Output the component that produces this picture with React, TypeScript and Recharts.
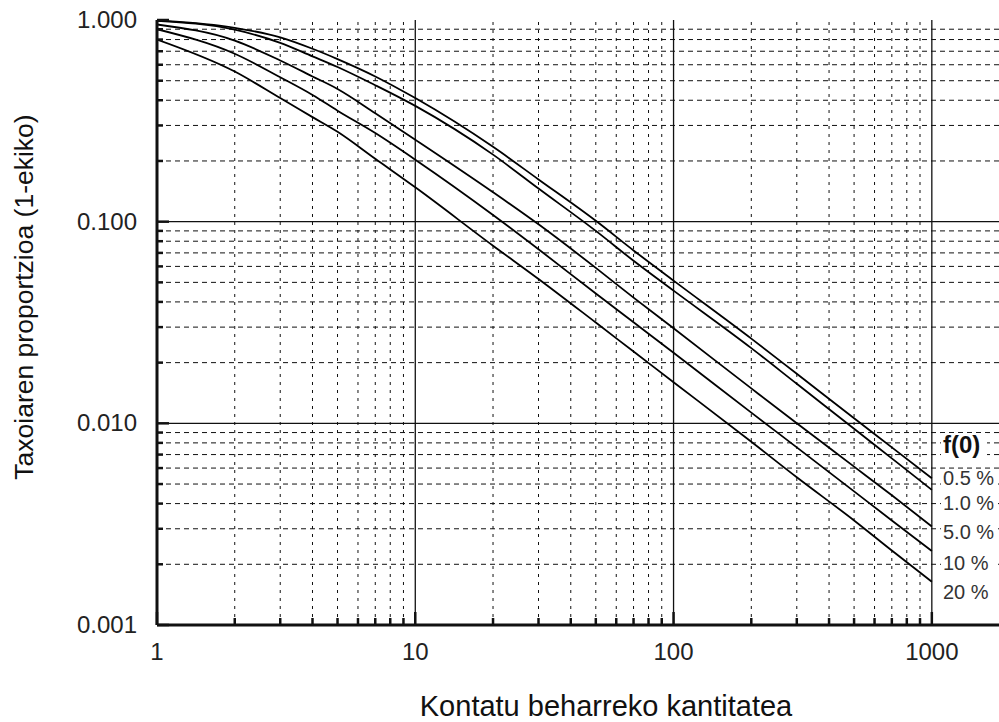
import { LineChart, Line, XAxis, YAxis, ReferenceLine } from 'recharts'

const countX = [1, 2, 3, 4, 5, 7, 10, 20, 30, 50, 70, 100, 200, 300, 500, 700, 1000]
const f05 = [0.995, 0.915, 0.82, 0.72, 0.64, 0.525, 0.41, 0.235, 0.162, 0.101, 0.072, 0.051, 0.0263, 0.0176, 0.0106, 0.0076, 0.00534]
const f1 = [0.99, 0.895, 0.77, 0.66, 0.585, 0.475, 0.375, 0.215, 0.146, 0.09, 0.064, 0.0455, 0.0236, 0.0157, 0.0094, 0.0067, 0.00468]
const f5 = [0.95, 0.79, 0.63, 0.525, 0.455, 0.345, 0.255, 0.14, 0.097, 0.059, 0.042, 0.0296, 0.0149, 0.01, 0.0061, 0.0044, 0.00308]
const f10 = [0.9, 0.68, 0.52, 0.425, 0.355, 0.275, 0.203, 0.108, 0.073, 0.044, 0.0317, 0.0224, 0.0113, 0.0076, 0.0046, 0.0033, 0.00233]
const f20 = [0.8, 0.555, 0.41, 0.33, 0.279, 0.205, 0.148, 0.076, 0.052, 0.0316, 0.0227, 0.016, 0.0081, 0.0054, 0.0033, 0.00234, 0.00164]

const seriesKeys = ['f05', 'f1', 'f5', 'f10', 'f20']
const legendLabels = ['0.5 %', '1.0 %', '5.0 %', '10 %', '20 %']

const xTicks = [1, 2, 3, 4, 5, 6, 7, 8, 9, 10, 20, 30, 40, 50, 60, 70, 80, 90, 100, 200, 300, 400, 500, 600, 700, 800, 900, 1000]
const yTicks = [
  0.001, 0.002, 0.003, 0.004, 0.005, 0.006, 0.007, 0.008, 0.009,
  0.01, 0.02, 0.03, 0.04, 0.05, 0.06, 0.07, 0.08, 0.09,
  0.1, 0.2, 0.3, 0.4, 0.5, 0.6, 0.7, 0.8, 0.9, 1,
]

const data = countX.map((x, i) => ({
  x,
  f05: f05[i],
  f1: f1[i],
  f5: f5[i],
  f10: f10[i],
  f20: f20[i],
}))

const FONT = '"Liberation Sans", Arial, sans-serif'
const INK = '#111'

const isDecade = (v: number) => Math.abs(Math.log10(v) - Math.round(Math.log10(v))) < 1e-9

const BottomTick = ({ x, y, payload }: any) => {
  const major = isDecade(payload.value)
  return (
    <g>
      <line x1={x} x2={x} y1={y} y2={y - (major ? 13 : 7)} stroke={INK} strokeWidth={2.5} />
      {major && (
        <text x={x} y={y + 35} textAnchor="middle" fontSize={24} fontFamily={FONT} fill="#222">
          {payload.value}
        </text>
      )}
    </g>
  )
}

const TopTick = ({ x, y, payload }: any) => {
  const major = isDecade(payload.value)
  return <line x1={x} x2={x} y1={y} y2={y + (major ? 10 : 6)} stroke={INK} strokeWidth={2.5} />
}

const LeftTick = ({ x, y, payload }: any) => {
  const major = isDecade(payload.value)
  return (
    <g>
      <line x1={x} x2={x + (major ? 12 : 6)} y1={y} y2={y} stroke={INK} strokeWidth={2.5} />
      {major && (
        <text x={x - 20} y={y + 8} textAnchor="end" fontSize={24} fontFamily={FONT} fill="#222">
          {payload.value.toFixed(3)}
        </text>
      )}
    </g>
  )
}

// label positions at the right of the plot
const labelY = [485, 510, 539, 570, 599]

export default function App() {
  return (
    <div style={{ position: 'absolute', left: 0, top: 0, width: 999, height: 722, background: '#fff' }}>
      <LineChart width={999} height={722} data={data} margin={{ top: 20, right: 0, bottom: 0, left: 0 }}>
        {xTicks.filter((v) => v > 1).map((v) => (
          <ReferenceLine
            key={'vx' + v}
            x={v}
            stroke={INK}
            strokeWidth={isDecade(v) ? 1.3 : 1}
            strokeDasharray={isDecade(v) ? undefined : '3 5'}
          />
        ))}
        {yTicks.filter((v) => v > 0.001 && v < 1).map((v) => (
          <ReferenceLine
            key={'hy' + v}
            y={v}
            stroke={INK}
            strokeWidth={isDecade(v) ? 1.3 : 1}
            strokeDasharray={isDecade(v) ? undefined : '5 4'}
          />
        ))}
        <XAxis
          dataKey="x"
          type="number"
          scale="log"
          domain={[1, 1820]}
          allowDataOverflow
          ticks={xTicks}
          interval={0}
          height={97}
          tickSize={0}
          tickMargin={0}
          tickLine={false}
          tick={<BottomTick />}
          axisLine={{ stroke: INK, strokeWidth: 3 }}
        />
        <XAxis
          xAxisId="top"
          orientation="top"
          dataKey="x"
          type="number"
          scale="log"
          domain={[1, 1820]}
          allowDataOverflow
          ticks={xTicks}
          interval={0}
          height={0}
          tickSize={0}
          tickMargin={0}
          tickLine={false}
          tick={<TopTick />}
          axisLine={{ stroke: INK, strokeWidth: 2.5 }}
        />
        <YAxis
          type="number"
          scale="log"
          domain={[0.001, 1]}
          allowDataOverflow
          ticks={yTicks}
          interval={0}
          width={157}
          tickSize={0}
          tickMargin={0}
          tickLine={false}
          tick={<LeftTick />}
          axisLine={{ stroke: INK, strokeWidth: 3 }}
        />
        {seriesKeys.map((k) => (
          <Line
            key={k}
            dataKey={k}
            type="monotone"
            stroke="#000"
            strokeWidth={1.8}
            dot={false}
            isAnimationActive={false}
          />
        ))}
      </LineChart>
      <svg
        width={999}
        height={722}
        style={{ position: 'absolute', left: 0, top: 0, pointerEvents: 'none' }}
        fontFamily={FONT}
      >
        <text x={606} y={716} textAnchor="middle" fontSize={29} fill="#111">
          Kontatu beharreko kantitatea
        </text>
        <text
          x={0}
          y={0}
          transform="translate(33 297) rotate(-90)"
          textAnchor="middle"
          fontSize={26.5}
          fill="#111"
        >
          Taxoiaren proportzioa (1-ekiko)
        </text>
        <rect x={941} y={433} width={46} height={25} fill="#fff" />
        <text x={943} y={453} fontSize={24} fontWeight="bold" fill="#111">
          f(0)
        </text>
        {legendLabels.map((t, i) => (
          <g key={t}>
            <rect x={941} y={labelY[i] - 16} width={57} height={20} fill="#fff" />
            <text x={943} y={labelY[i]} fontSize={20} fill="#333">
              {t}
            </text>
          </g>
        ))}
      </svg>
    </div>
  )
}
